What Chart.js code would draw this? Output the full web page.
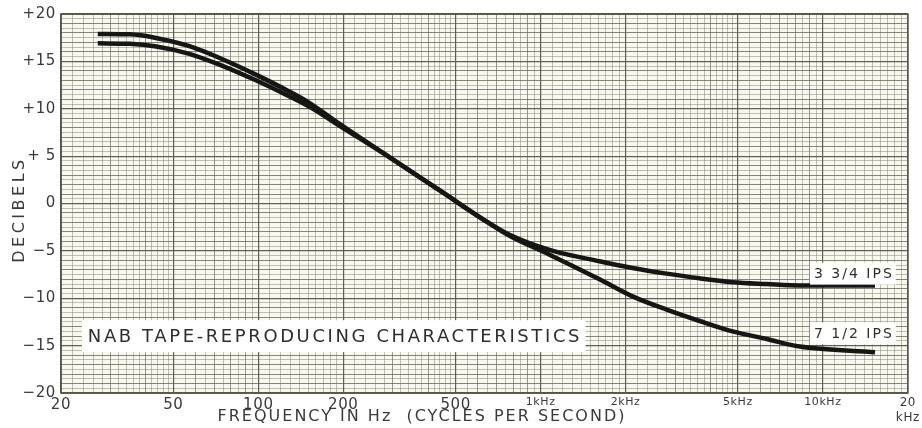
<!DOCTYPE html>
<html>
<head>
<meta charset="utf-8">
<script src="https://cdn.jsdelivr.net/npm/chart.js@4"></script>
<style>
  body { margin: 0; background: #ffffff; }
  #wrap { width: 922px; height: 428px; }
</style>
</head>
<body>
<div id="wrap"><canvas id="nabChart"></canvas></div>
<script>
// frequencies (Hz)
const freqs = [27, 35, 43, 57, 75, 98, 129, 152, 194, 291, 438, 659, 776, 1076, 1617, 2117, 2796, 3660, 4790, 6325, 8280, 15300];
// 7 1/2 ips playback curve (dB)
const ips712 = [17.9, 17.85, 17.5, 16.6, 15.2, 13.6, 11.8, 10.6, 8.4, 4.9, 1.4, -2.1, -3.4, -5.4, -8.0, -9.8, -11.2, -12.4, -13.5, -14.3, -15.1, -15.7];
// 3 3/4 ips playback curve (dB)
const ips334 = [16.9, 16.85, 16.6, 15.8, 14.5, 13.0, 11.3, 10.2, 8.2, 4.9, 1.4, -2.1, -3.3, -4.9, -6.1, -6.8, -7.4, -7.9, -8.3, -8.5, -8.65, -8.65];

const xTickValues = [20, 50, 100, 200, 500, 1000, 2000, 5000, 10000, 20000];
const xTickLabels = ['20', '50', '100', '200', '500', '1kHz', '2kHz', '5kHz', '10kHz', ['20', 'kHz']];
const yTickValues = [-20, -15, -10, -5, 0, 5, 10, 15, 20];
const yTickLabels = ['\u221220', '\u221215', '\u221210', '\u22125', '0', '+ 5', '+10', '+15', '+20'];

const textColor = '#3a3a36';
const fontFamily = '"DejaVu Sans", sans-serif';

// graph paper lines
function logGrid(subs) {
    const out = [];
    for (let d = 10; d <= 10000; d *= 10) {
        subs.forEach(s => {
            const v = Math.round(s * d * 1000) / 1000;
            if (v >= 20 && v <= 20000) out.push(v);
        });
    }
    return out;
}
const xMedium = logGrid([1, 2, 3, 4, 5, 6, 7, 8, 9]);
const xFine = logGrid([1.1, 1.2, 1.3, 1.4, 1.5, 1.6, 1.7, 1.8, 1.9, 2.2, 2.4, 2.6, 2.8, 3.2, 3.4, 3.6, 3.8, 4.2, 4.4, 4.6, 4.8, 5.5, 6.5, 7.5, 8.5, 9.5]);
const yMedium = [];
for (let v = -20; v <= 20; v += 1) yMedium.push(v);
const yFine = [];
for (let v = -20; v <= 20; v += 0.5) yFine.push(v);

const labelBoxes = [
    { text: 'NAB TAPE-REPRODUCING CHARACTERISTICS', freq: 24.9, db: -14.0, size: 18, spacing: 2.6, padX: 6, padY: 7 },
    { text: '3 3/4 IPS', freq: 9300, db: -7.4, size: 14, spacing: 2, padX: 4, padY: 4 },
    { text: '7 1/2 IPS', freq: 9300, db: -13.7, size: 14, spacing: 2, padX: 4, padY: 4 }
];
const xTitle = 'FREQUENCY IN Hz  (CYCLES PER SECOND)';
const yTitle = 'DECIBELS';

const paperPlugin = {
    id: 'paper',
    beforeDraw(chart) {
        const { ctx, chartArea } = chart;
        ctx.letterSpacing = '0.6px';
        ctx.save();
        ctx.fillStyle = '#ffffff';
        ctx.fillRect(0, 0, chart.width, chart.height);
        ctx.fillStyle = '#f8f8f1';
        ctx.fillRect(chartArea.left, chartArea.top, chartArea.right - chartArea.left, chartArea.bottom - chartArea.top);
        ctx.restore();
    },
    beforeDatasetsDraw(chart) {
        const { ctx, chartArea } = chart;
        ctx.save();
        ctx.strokeStyle = '#55554a';
        ctx.lineWidth = 1.6;
        ctx.strokeRect(chartArea.left, chartArea.top, chartArea.right - chartArea.left, chartArea.bottom - chartArea.top);
        ctx.restore();
    },
    afterDatasetsDraw(chart) {
        const { ctx, chartArea } = chart;
        const xs = chart.scales.x;
        const ys = chart.scales.y;
        labelBoxes.forEach(b => {
            ctx.save();
            ctx.font = b.size + 'px ' + fontFamily;
            ctx.letterSpacing = b.spacing + 'px';
            const w = ctx.measureText(b.text).width;
            const x = xs.getPixelForValue(b.freq);
            const y = ys.getPixelForValue(b.db);
            ctx.fillStyle = '#ffffff';
            ctx.fillRect(x - b.padX, y - b.size / 2 - b.padY, w + b.padX * 2 - b.spacing, b.size + b.padY * 2);
            ctx.fillStyle = '#2e2e2a';
            ctx.textAlign = 'left';
            ctx.textBaseline = 'middle';
            ctx.fillText(b.text, x, y + 1);
            ctx.restore();
        });
        // axis titles, drawn here to get the wide lettering of the sheet
        ctx.save();
        ctx.font = '16px ' + fontFamily;
        ctx.letterSpacing = '2px';
        ctx.fillStyle = textColor;
        ctx.textAlign = 'center';
        ctx.textBaseline = 'middle';
        ctx.fillText(xTitle, 422, 417);
        ctx.translate(20, (chartArea.top + chartArea.bottom) / 2 + 6);
        ctx.rotate(-Math.PI / 2);
        ctx.letterSpacing = '3.5px';
        ctx.fillText(yTitle, 0, 0);
        ctx.restore();
    }
};

function hiddenAxis(type, pos, values, color, dash, z, extra) {
    return Object.assign({
        type: type,
        position: pos,
        z: z,
        ticks: { display: false },
        border: { display: false },
        grid: { color: color, lineWidth: 1, drawTicks: false, borderDash: dash },
        afterBuildTicks: s => { s.ticks = values.map(v => ({ value: v })); },
        afterFit: s => { if (pos === 'bottom') s.height = 0; else s.width = 0; }
    }, extra);
}

new Chart(document.getElementById('nabChart'), {
    type: 'line',
    data: {
        datasets: [
            {
                label: '7 1/2 IPS',
                data: freqs.map((f, i) => ({ x: f, y: ips712[i] })),
                borderColor: '#161614',
                borderWidth: 4.5,
                pointRadius: 0,
                cubicInterpolationMode: 'monotone',
                fill: false
            },
            {
                label: '3 3/4 IPS',
                data: freqs.map((f, i) => ({ x: f, y: ips334[i] })),
                borderColor: '#161614',
                borderWidth: 4.5,
                pointRadius: 0,
                cubicInterpolationMode: 'monotone',
                fill: false
            }
        ]
    },
    options: {
        responsive: true,
        maintainAspectRatio: false,
        animation: false,
        layout: { padding: { left: 0, right: 12, top: 13, bottom: 0 } },
        plugins: {
            legend: { display: false },
            tooltip: { enabled: false }
        },
        scales: {
            xFine: hiddenAxis('logarithmic', 'bottom', xFine, 'rgba(120,120,100,0.45)', [1, 2], -3, { min: 20, max: 20000 }),
            xMed: hiddenAxis('logarithmic', 'bottom', xMedium, 'rgba(110,110,95,0.7)', [], -2, { min: 20, max: 20000 }),
            yFine: hiddenAxis('linear', 'left', yFine, 'rgba(120,120,100,0.45)', [1, 2], -3, { min: -20, max: 20 }),
            yMed: hiddenAxis('linear', 'left', yMedium, 'rgba(110,110,95,0.7)', [], -2, { min: -20, max: 20 }),
            x: {
                type: 'logarithmic',
                position: 'bottom',
                min: 20,
                max: 20000,
                z: -1,
                afterBuildTicks: s => { s.ticks = xTickValues.map(v => ({ value: v })); },
                afterFit: s => { s.height = 35; },
                ticks: {
                    color: textColor,
                    padding: 3,
                    maxRotation: 0,
                    autoSkip: false,
                    font: c => ({ family: fontFamily, size: (c.tick && c.tick.value >= 1000) ? (c.tick.value === 20000 ? 12 : 11) : 15 }),
                    callback: (value) => xTickLabels[xTickValues.indexOf(value)]
                },
                grid: { color: '#5f5f52', lineWidth: 1.2, drawTicks: false },
                border: { display: false }
            },
            y: {
                type: 'linear',
                position: 'left',
                min: -20,
                max: 20,
                z: -1,
                afterBuildTicks: s => { s.ticks = yTickValues.map(v => ({ value: v })); },
                afterFit: s => { s.width = 61; },
                ticks: {
                    color: textColor,
                    padding: 5,
                    font: { family: fontFamily, size: 15 },
                    callback: (value) => yTickLabels[yTickValues.indexOf(value)]
                },
                grid: { color: '#5f5f52', lineWidth: 1.2, drawTicks: false },
                border: { display: false }
            }
        }
    },
    plugins: [paperPlugin]
});
</script>
</body>
</html>
